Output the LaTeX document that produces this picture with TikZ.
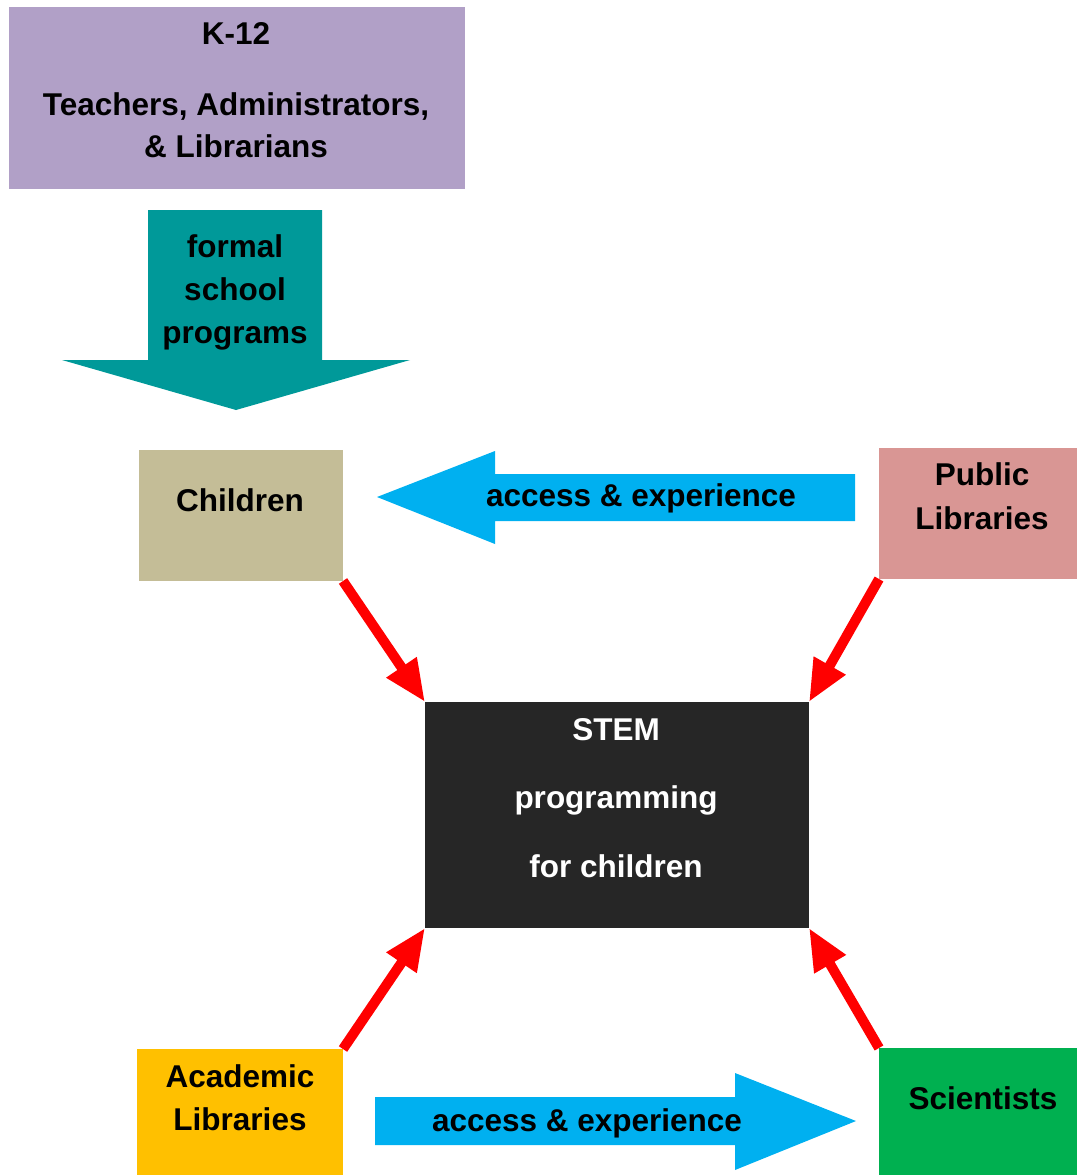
\documentclass[tikz,border=0pt]{standalone}
\usepackage{fontspec}
\setmainfont{Liberation Sans}
\usetikzlibrary{arrows.meta}
\definecolor{kcol}{HTML}{B1A0C7}
\definecolor{tealcol}{HTML}{009999}
\definecolor{childcol}{HTML}{C4BD97}
\definecolor{pubcol}{HTML}{D99694}
\definecolor{stemcol}{HTML}{262626}
\definecolor{acadcol}{HTML}{FFC000}
\definecolor{scicol}{HTML}{00B050}
\definecolor{bluecol}{HTML}{00B0F0}
\definecolor{arrowred}{HTML}{FF0000}
\begin{document}
\begin{tikzpicture}[x=1pt,y=-1pt,
  box/.style={draw=none, inner sep=0pt, outer sep=0pt, anchor=north west},
  lbl/.style={anchor=base, inner sep=0pt, font=\fontsize{31.5}{38}\selectfont\bfseries},
  flow/.style={draw=arrowred, line width=10pt, -{Triangle[length=42pt,width=34pt]}}
]
\useasboundingbox (0,0) rectangle (1077,1175);

% boxes
\node[box, fill=kcol, minimum width=456pt, minimum height=182pt] (k12) at (9,7) {};
\node[box, fill=childcol, minimum width=204pt, minimum height=131pt] (children) at (139,450) {};
\node[box, fill=pubcol, minimum width=198pt, minimum height=131pt] (public) at (879,448) {};
\node[box, fill=stemcol, minimum width=384pt, minimum height=226pt] (stem) at (425,702) {};
\node[box, fill=acadcol, minimum width=206pt, minimum height=126pt] (academic) at (137,1049) {};
\node[box, fill=scicol, minimum width=198pt, minimum height=127pt] (scientists) at (879,1048) {};

% block arrows
\fill[tealcol] (148,210) -- (322,210) -- (322,360) -- (410,360) -- (236,410)
  -- (62,360) -- (148,360) -- cycle;
\fill[bluecol] (855,474) -- (495,474) -- (495,451) -- (377,497) -- (495,544)
  -- (495,521) -- (855,521) -- cycle;
\fill[bluecol] (375,1097) -- (735,1097) -- (735,1073) -- (856,1121) -- (735,1170)
  -- (735,1145) -- (375,1145) -- cycle;

% texts
\node[lbl] (k12a) at (236,44) {K-12};
\node[lbl] (k12b) at (236,115) {Teachers, Administrators,};
\node[lbl] (k12c) at (236,157) {\& Librarians};
\node[lbl] (fa) at (235,257) {formal};
\node[lbl] (fb) at (235,300) {school};
\node[lbl] (fc) at (235,343) {programs};
\node[lbl] (cht) at (240,511) {Children};
\node[lbl] (acc1) at (641,506) {access \& experience};
\node[lbl] (puba) at (982,485) {Public};
\node[lbl] (pubb) at (982,529) {Libraries};
\node[lbl, text=white] (sa) at (616,740) {STEM};
\node[lbl, text=white] (sb) at (616,808) {programming};
\node[lbl, text=white] (sc) at (616,877) {for children};
\node[lbl] (aca) at (240,1087) {Academic};
\node[lbl] (acb) at (240,1130) {Libraries};
\node[lbl] (sci) at (983,1109) {Scientists};
\node[lbl] (acc2) at (587,1131) {access \& experience};

% red connectors into the centre box
\draw[flow] (children.south east) -- (stem.north west);
\draw[flow] (public.south west) -- (stem.north east);
\draw[flow] (academic.north east) -- (stem.south west);
\draw[flow] (scientists.north west) -- (stem.south east);
\end{tikzpicture}
\end{document}
